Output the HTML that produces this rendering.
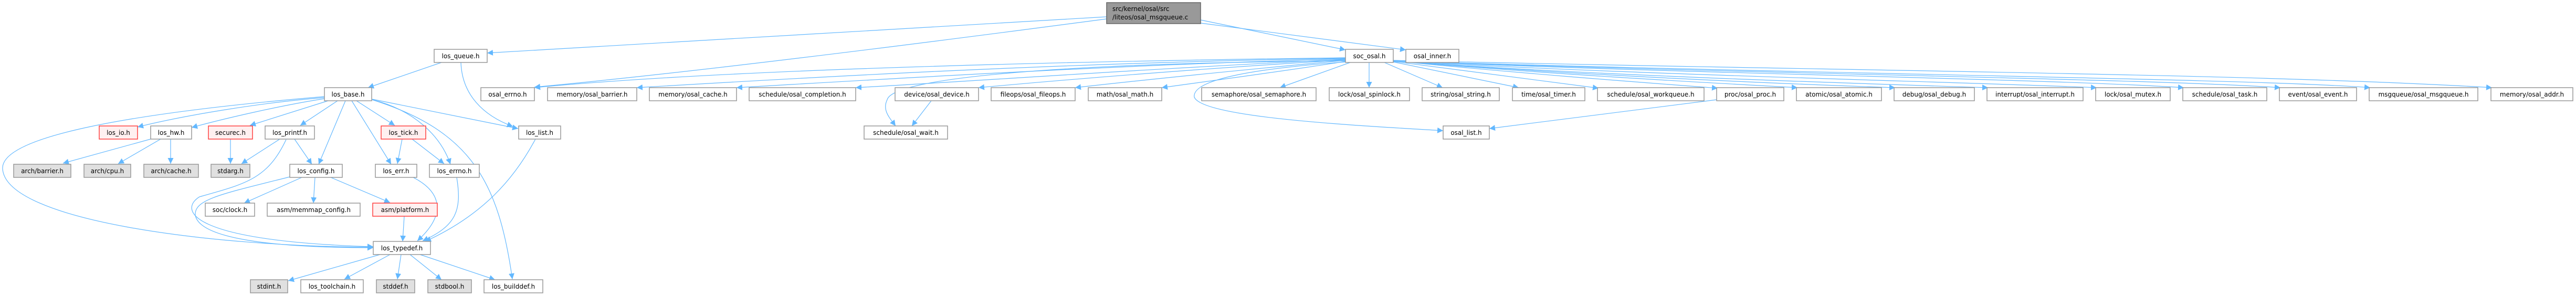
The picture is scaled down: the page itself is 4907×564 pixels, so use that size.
<!DOCTYPE html>
<html><head><meta charset="utf-8"><style>
html,body{margin:0;padding:0;background:#fff;}
svg{display:block;}
text{font-family:"DejaVu Sans","Liberation Sans",sans-serif;font-size:12px;fill:#000;}
.n{fill:#fff;stroke:#999;stroke-width:1.5;}
.r{fill:#fff0f0;stroke:#ff4040;stroke-width:1.5;}
.g{fill:#e0e0e0;stroke:#999;stroke-width:1.5;}
.e{fill:none;stroke:#63b8ff;stroke-width:1.2;}
</style></head><body>
<svg width="4907" height="564" viewBox="0 0 4907 564" xmlns="http://www.w3.org/2000/svg">
<defs>
<marker id="a" viewBox="0 0 10 10" refX="10" refY="5" markerWidth="11" markerHeight="11" markerUnits="userSpaceOnUse" orient="auto">
<path d="M0,0 L10,5 L0,10 z" fill="#63b8ff"/></marker>
</defs>
<g marker-end="url(#a)">
<path class="e" d="M2108,32 L928,101"/>
<path class="e" d="M2108,36 C1700,90 1300,140 1018,166"/>
<path class="e" d="M2287,38 L2563,95"/>
<path class="e" d="M2287,44 L2678,95"/>
<path class="e" d="M2563,110 C1800,120 1300,140 1018,167"/>
<path class="e" d="M2563,111 C2000,120 1500,150 1213,167"/>
<path class="e" d="M2563,112 C2100,125 1700,150 1403,167"/>
<path class="e" d="M2563,113 C2200,130 1850,155 1630,167"/>
<path class="e" d="M2563,114 C2300,130 2050,150 1864,167"/>
<path class="e" d="M2563,115 C2400,130 2200,150 2048,167"/>
<path class="e" d="M2563,117 C2450,135 2300,155 2213,167"/>
<path class="e" d="M2572,119 L2438,167"/>
<path class="e" d="M2563,116 C2000,120 1700,150 1690,190 C1680,210 1695,225 1706,240"/>
<path class="e" d="M2563,118 C2400,130 2270,150 2275,185 C2290,225 2600,240 2749,249"/>
<path class="e" d="M2608,119 L2608,167"/>
<path class="e" d="M2637,119 L2748,167"/>
<path class="e" d="M2654,118 L2893,167"/>
<path class="e" d="M2654,117 L3045,168"/>
<path class="e" d="M2654,116 C2900,140 3100,155 3272,168"/>
<path class="e" d="M2654,116 C3000,145 3300,160 3424,167"/>
<path class="e" d="M2654,116 C3000,143 3400,160 3610,167"/>
<path class="e" d="M2654,116 C3000,142 3500,158 3787,167"/>
<path class="e" d="M2654,116 C3100,142 3700,155 3994,167"/>
<path class="e" d="M2654,116 C3200,140 3900,150 4160,167"/>
<path class="e" d="M2654,116 C3300,140 4100,150 4344,167"/>
<path class="e" d="M2654,116 C3400,140 4300,150 4515,167"/>
<path class="e" d="M2654,115 C3500,135 4300,140 4747,167"/>
<path class="e" d="M1774,192 L1737,240"/>
<path class="e" d="M3270,190 L2837,245"/>
<path class="e" d="M841,119 L701,167"/>
<path class="e" d="M878,119 C880,180 920,220 977,241"/>
<path class="e" d="M618,186 C500,195 350,220 262,242"/>
<path class="e" d="M618,188 C540,200 430,225 365,243"/>
<path class="e" d="M625,192 L476,239"/>
<path class="e" d="M643,192 L572,239"/>
<path class="e" d="M658,192 L607,313"/>
<path class="e" d="M670,192 L745,313"/>
<path class="e" d="M679,192 L752,239"/>
<path class="e" d="M618,184 C250,215 0,260 5,322 C12,420 400,470 711,471"/>
<path class="e" d="M709,190 C790,210 840,260 858,313"/>
<path class="e" d="M709,189 L987,245"/>
<path class="e" d="M709,190 C900,250 950,350 976,532"/>
<path class="e" d="M287,265 L120,311"/>
<path class="e" d="M306,265 L225,312"/>
<path class="e" d="M325,265 L325,312"/>
<path class="e" d="M439,265 L439,312"/>
<path class="e" d="M533,265 L460,312"/>
<path class="e" d="M561,265 L594,313"/>
<path class="e" d="M545,266 C510,340 470,350 380,375 C340,400 360,460 711,470"/>
<path class="e" d="M575,338 L465,387"/>
<path class="e" d="M600,338 L597,387"/>
<path class="e" d="M630,338 L743,386"/>
<path class="e" d="M552,337 C420,370 370,380 372,410 C380,455 520,472 711,472"/>
<path class="e" d="M766,265 L757,312"/>
<path class="e" d="M785,265 L846,312"/>
<path class="e" d="M787,338 C830,360 860,400 795,459"/>
<path class="e" d="M870,338 C880,400 870,430 805,459"/>
<path class="e" d="M1020,265 C980,340 920,410 810,460"/>
<path class="e" d="M770,412 L767,460"/>
<path class="e" d="M724,485 L549,535"/>
<path class="e" d="M743,485 L656,532"/>
<path class="e" d="M764,485 L757,532"/>
<path class="e" d="M781,485 L841,533"/>
<path class="e" d="M800,485 L943,533"/>
</g>
<rect x="2108" y="5" width="179" height="40" fill="#999" stroke="#666" stroke-width="1.5"/>
<text x="2119" y="21">src/kernel/osal/src</text>
<text x="2119" y="37">/liteos/osal_msgqueue.c</text>
<g text-anchor="middle">
<rect class="n" x="827" y="94" width="101" height="25"/><text x="877.5" y="111">los_queue.h</text>
<rect class="n" x="2563" y="94" width="91" height="25"/><text x="2608.5" y="111">soc_osal.h</text>
<rect class="n" x="2678" y="94" width="101" height="25"/><text x="2728.5" y="111">osal_inner.h</text>
<rect class="n" x="618" y="167" width="90" height="25"/><text x="663" y="184">los_base.h</text>
<rect class="n" x="916" y="167" width="102" height="25"/><text x="967" y="184">osal_errno.h</text>
<rect class="n" x="1043" y="167" width="170" height="25"/><text x="1128" y="184">memory/osal_barrier.h</text>
<rect class="n" x="1237" y="167" width="166" height="25"/><text x="1320" y="184">memory/osal_cache.h</text>
<rect class="n" x="1427" y="167" width="203" height="25"/><text x="1528.5" y="184">schedule/osal_completion.h</text>
<rect class="n" x="1705" y="167" width="159" height="25"/><text x="1784.5" y="184">device/osal_device.h</text>
<rect class="n" x="1888" y="167" width="160" height="25"/><text x="1968" y="184">fileops/osal_fileops.h</text>
<rect class="n" x="2073" y="167" width="140" height="25"/><text x="2143" y="184">math/osal_math.h</text>
<rect class="n" x="2289" y="167" width="218" height="25"/><text x="2398" y="184">semaphore/osal_semaphore.h</text>
<rect class="n" x="2532" y="167" width="153" height="25"/><text x="2608.5" y="184">lock/osal_spinlock.h</text>
<rect class="n" x="2709" y="167" width="147" height="25"/><text x="2782.5" y="184">string/osal_string.h</text>
<rect class="n" x="2881" y="167" width="138" height="25"/><text x="2950" y="184">time/osal_timer.h</text>
<rect class="n" x="3043" y="167" width="203" height="25"/><text x="3144.5" y="184">schedule/osal_workqueue.h</text>
<rect class="n" x="3270" y="167" width="128" height="25"/><text x="3334" y="184">proc/osal_proc.h</text>
<rect class="n" x="3422" y="167" width="162" height="25"/><text x="3503" y="184">atomic/osal_atomic.h</text>
<rect class="n" x="3608" y="167" width="153" height="25"/><text x="3684.5" y="184">debug/osal_debug.h</text>
<rect class="n" x="3785" y="167" width="183" height="25"/><text x="3876.5" y="184">interrupt/osal_interrupt.h</text>
<rect class="n" x="3992" y="167" width="142" height="25"/><text x="4063" y="184">lock/osal_mutex.h</text>
<rect class="n" x="4158" y="167" width="160" height="25"/><text x="4238" y="184">schedule/osal_task.h</text>
<rect class="n" x="4342" y="167" width="147" height="25"/><text x="4415.5" y="184">event/osal_event.h</text>
<rect class="n" x="4513" y="167" width="207" height="25"/><text x="4616.5" y="184">msgqueue/osal_msgqueue.h</text>
<rect class="n" x="4745" y="167" width="156" height="25"/><text x="4823" y="184">memory/osal_addr.h</text>
<rect class="r" x="189" y="240" width="73" height="25"/><text x="225.5" y="257">los_io.h</text>
<rect class="n" x="287" y="240" width="78" height="25"/><text x="326" y="257">los_hw.h</text>
<rect class="r" x="397" y="240" width="84" height="25"/><text x="439" y="257">securec.h</text>
<rect class="n" x="505" y="240" width="94" height="25"/><text x="552" y="257">los_printf.h</text>
<rect class="r" x="726" y="240" width="85" height="25"/><text x="768.5" y="257">los_tick.h</text>
<rect class="n" x="988" y="240" width="80" height="25"/><text x="1028" y="257">los_list.h</text>
<rect class="n" x="1646" y="240" width="159" height="25"/><text x="1725.5" y="257">schedule/osal_wait.h</text>
<rect class="n" x="2749" y="240" width="88" height="25"/><text x="2793" y="257">osal_list.h</text>
<rect class="g" x="26" y="313" width="109" height="25"/><text x="80.5" y="330">arch/barrier.h</text>
<rect class="g" x="160" y="313" width="89" height="25"/><text x="204.5" y="330">arch/cpu.h</text>
<rect class="g" x="274" y="313" width="104" height="25"/><text x="326" y="330">arch/cache.h</text>
<rect class="g" x="402" y="313" width="74" height="25"/><text x="439" y="330">stdarg.h</text>
<rect class="n" x="552" y="313" width="100" height="25"/><text x="602" y="330">los_config.h</text>
<rect class="n" x="715" y="313" width="79" height="25"/><text x="754.5" y="330">los_err.h</text>
<rect class="n" x="818" y="313" width="95" height="25"/><text x="865.5" y="330">los_errno.h</text>
<rect class="n" x="391" y="387" width="94" height="25"/><text x="438" y="404">soc/clock.h</text>
<rect class="n" x="509" y="387" width="177" height="25"/><text x="597.5" y="404">asm/memmap_config.h</text>
<rect class="r" x="710" y="387" width="123" height="25"/><text x="771.5" y="404">asm/platform.h</text>
<rect class="n" x="711" y="460" width="109" height="25"/><text x="765.5" y="477">los_typedef.h</text>
<rect class="g" x="477" y="533" width="71" height="25"/><text x="512.5" y="550">stdint.h</text>
<rect class="n" x="573" y="533" width="119" height="25"/><text x="632.5" y="550">los_toolchain.h</text>
<rect class="g" x="717" y="533" width="73" height="25"/><text x="753.5" y="550">stddef.h</text>
<rect class="g" x="815" y="533" width="83" height="25"/><text x="856.5" y="550">stdbool.h</text>
<rect class="n" x="922" y="533" width="112" height="25"/><text x="978" y="550">los_builddef.h</text>
</g>
</svg>
</body></html>
